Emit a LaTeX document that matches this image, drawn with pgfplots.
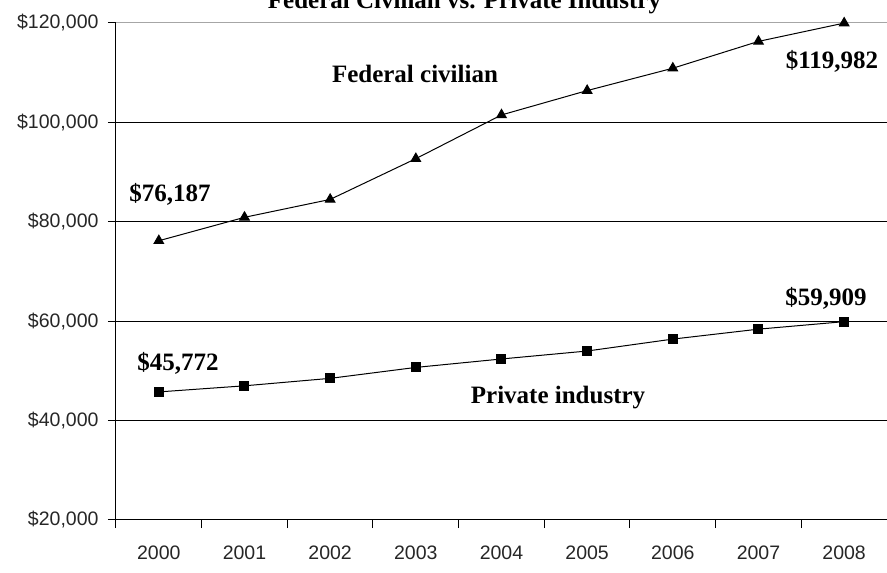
\documentclass[border=0pt]{standalone}
\usepackage{fontspec}
\setmainfont{Liberation Serif}
\newfontfamily\tickfont{Liberation Sans}
\usepackage{pgfplots}
\pgfplotsset{compat=1.18}
\begin{document}
\begin{tikzpicture}
\begin{axis}[
  at={(0,0)}, anchor=south west,
  scale only axis, width=771pt, height=497pt,
  xmin=-0.5, xmax=8.5, ymin=20000, ymax=120000,
  axis x line=bottom, axis y line=left,
  axis line style={-, line width=1pt, black},
  xtick={0,...,8},
  xticklabels={2000,2001,2002,2003,2004,2005,2006,2007,2008},
  major x tick style={draw=none},
  minor xtick={0.5,1.5,...,7.5},
  extra x ticks={-0.5}, extra x tick labels={},
  extra x tick style={major x tick style={draw=black}},
  ytick={20000,40000,...,120000},
  scaled y ticks=false,
  yticklabels={{\$20,000},{\$40,000},{\$60,000},{\$80,000},{\$100,000},{\$120,000}},
  tick align=outside,
  major tick length=8pt, minor tick length=8pt,
  tick style={black, line width=1pt},
  ymajorgrids, grid style={black, line width=1pt},
  xticklabel style={font=\tickfont\fontsize{19.5}{22}\selectfont, color=black!85, yshift=-14pt},
  yticklabel style={font=\tickfont\fontsize{19.5}{22}\selectfont, color=black!85, xshift=-6pt},
  clip=false,
]
\draw[gray!70, line width=1pt] (axis cs:-0.5,120000) -- (axis cs:8.5,120000);
\addplot[black, line width=1pt, mark=triangle*, mark size=5.5pt, mark options={solid}]
  coordinates {(0,76187) (1,80900) (2,84500) (3,92700) (4,101500) (5,106400) (6,110900) (7,116300) (8,119982)};
\addplot[black, line width=1pt, mark=square*, mark size=4.5pt]
  coordinates {(0,45772) (1,47000) (2,48500) (3,50700) (4,52400) (5,54000) (6,56400) (7,58400) (8,59909)};
\node[anchor=base, font=\bfseries\fontsize{25}{28}\selectfont] at (axis cs:0.13,84000) {\$76,187};
\node[anchor=base, font=\bfseries\fontsize{25}{28}\selectfont] at (axis cs:0.224,50000) {\$45,772};
\node[anchor=base, font=\bfseries\fontsize{25}{28}\selectfont] at (axis cs:7.788,63058) {\$59,909};
\node[anchor=base, font=\bfseries\fontsize{25}{28}\selectfont] at (axis cs:7.858,110744) {\$119,982};
\node[anchor=base, font=\bfseries\fontsize{25}{28}\selectfont] at (axis cs:2.99,107928) {Federal civilian};
\node[anchor=base, font=\bfseries\fontsize{25}{28}\selectfont] at (axis cs:4.66,43340) {Private industry};
\node[anchor=base, font=\bfseries\fontsize{25}{28}\selectfont] at (axis cs:3.568,122817) {Federal Civilian vs. Private Industry};
\end{axis}
\pgfresetboundingbox
\useasboundingbox (-116pt,-53pt) rectangle (771pt,520pt);
\end{tikzpicture}
\end{document}
